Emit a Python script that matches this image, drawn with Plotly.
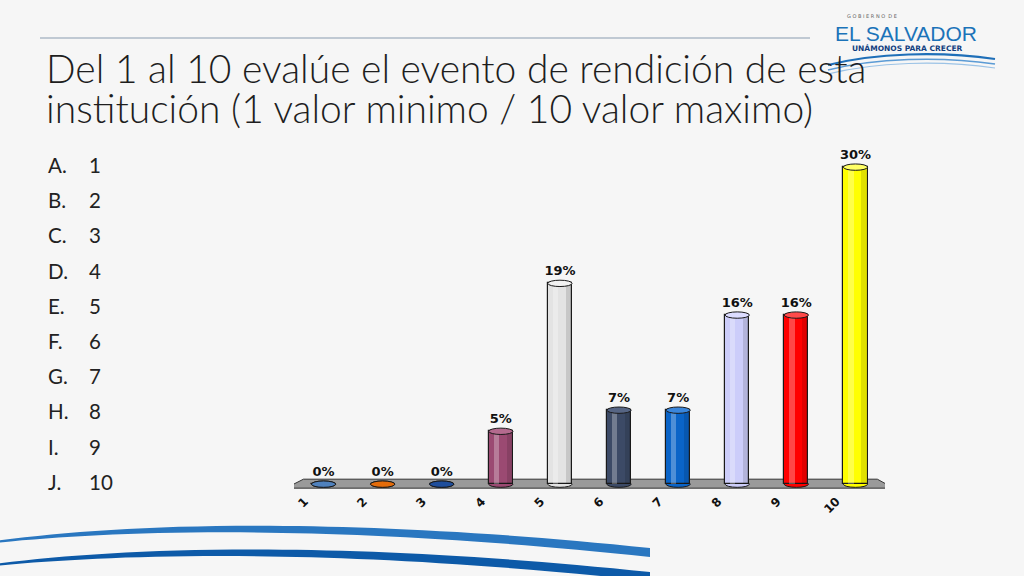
import plotly.graph_objects as go

# ---------------- data ----------------
categories = ["1", "2", "3", "4", "5", "6", "7", "8", "9", "10"]
values = [0, 0, 0, 5, 19, 7, 7, 16, 16, 30]
value_labels = ["0%", "0%", "0%", "5%", "19%", "7%", "7%", "16%", "16%", "30%"]
bar_colors = ["#4f81bd", "#e46c0a", "#1f4e9c", "#9b4a72", "#e3e3e3",
              "#3c4a66", "#0a64c8", "#cccdfa", "#ff0000", "#ffff00"]
top_colors = ["#6d98cc", "#f08a3a", "#3a6ab8", "#b46a8e", "#f2f2f2",
              "#566584", "#3a86dc", "#dcdcff", "#ff4a4a", "#ffff66"]
list_letters = ["A.", "B.", "C.", "D.", "E.", "F.", "G.", "H.", "I.", "J."]
list_values = ["1", "2", "3", "4", "5", "6", "7", "8", "9", "10"]
title_lines = ["Del 1 al 10 evalúe el evento de rendición de esta",
               "institución (1 valor minimo / 10 valor maximo)"]

# ---------------- layout geometry ----------------
W, H = 1024, 576
ML, MR, MT, MB = 294, 139, 146, 76
PW, PH = W - ML - MR, H - MT - MB


def X(px):
    return (px - ML) / PW


def Y(py):
    return (H - MB - py) / PH


xs = list(range(1, len(categories) + 1))

fig = go.Figure()

# main cylinder bodies
fig.add_trace(go.Bar(
    x=xs, y=values, width=0.41,
    marker=dict(color=bar_colors, line=dict(color="#1a1a1a", width=1.2)),
    hoverinfo="skip", showlegend=False,
))
# highlight stripe
fig.add_trace(go.Bar(
    x=xs, y=values, width=0.09, offset=-0.12,
    marker=dict(color="rgba(255,255,255,0.28)", line=dict(width=0)),
    hoverinfo="skip", showlegend=False,
))
# shaded right side
fig.add_trace(go.Bar(
    x=xs, y=values, width=0.08, offset=0.1,
    marker=dict(color="rgba(0,0,0,0.12)", line=dict(width=0)),
    hoverinfo="skip", showlegend=False,
))
# value labels
fig.add_trace(go.Scatter(
    x=xs, y=[v + 0.45 for v in values], text=value_labels,
    mode="text", textposition="top center",
    textfont=dict(family="DejaVu Sans", size=13, color="#111111", weight="bold"),
    hoverinfo="skip", showlegend=False,
))

shapes = []
# floor (perspective plate) in data coordinates
shapes.append(dict(
    type="path", xref="x", yref="y", layer="below",
    path="M 0.36,-0.38 L 10.645,-0.38 L 10.37,0.47 L 0.66,0.47 Z",
    fillcolor="#9a9a9a", line=dict(color="#333333", width=1),
))
eh = 0.3
hw = 0.205
for xi, v, c, tc in zip(xs, values, bar_colors, top_colors):
    # bottom ellipse (rounded base)
    shapes.append(dict(type="circle", xref="x", yref="y", layer="below",
                       x0=xi - hw, x1=xi + hw, y0=-eh, y1=eh,
                       fillcolor=c, line=dict(color="#1a1a1a", width=1)))
    # top ellipse
    shapes.append(dict(type="circle", xref="x", yref="y", layer="above",
                       x0=xi - hw, x1=xi + hw, y0=v - eh, y1=v + eh,
                       fillcolor=tc if v > 0 else c,
                       line=dict(color="#1a1a1a", width=1)))


# slide decorations (paper coordinates derived from pixel helper)
def pth(points):
    out = []
    for cmd, pts in points:
        coords = " ".join(f"{X(a):.5f},{Y(b):.5f}" for a, b in pts)
        out.append(f"{cmd} {coords}" if coords else cmd)
    return " ".join(out)


# top rule
shapes.append(dict(type="line", xref="paper", yref="paper",
                   x0=X(40), x1=X(810), y0=Y(38), y1=Y(38),
                   line=dict(color="#8a9bb0", width=1.2)))
# bottom-left swooshes
shapes.append(dict(type="path", xref="paper", yref="paper", layer="below",
                   path=pth([("M", [(-5, 541)]),
                             ("C", [(120, 524), (330, 515), (650, 548)]),
                             ("L", [(650, 557)]),
                             ("C", [(330, 523), (120, 530), (-5, 543)]),
                             ("Z", [])]),
                   fillcolor="#2a77c0", line=dict(width=0)))
shapes.append(dict(type="path", xref="paper", yref="paper", layer="below",
                   path=pth([("M", [(-5, 564)]),
                             ("C", [(120, 548), (330, 539), (650, 572)]),
                             ("L", [(650, 581)]),
                             ("C", [(330, 547), (120, 554), (-5, 566)]),
                             ("Z", [])]),
                   fillcolor="#0d5aa8", line=dict(width=0)))
# logo waves
for dy, col, wdt in [(0, "#1f6fb8", 2.2), (5, "#5b9bd5", 1.6), (9, "#9cc3e6", 1.2)]:
    shapes.append(dict(type="path", xref="paper", yref="paper",
                       path=pth([("M", [(828, 65 + dy)]),
                                 ("C", [(875, 53 + dy), (940, 51 + dy), (995, 59 + dy)])]),
                       line=dict(color=col, width=wdt)))

annotations = []
for i, line in enumerate(title_lines):
    annotations.append(dict(
        text=line, xref="paper", yref="paper", x=X(44), y=Y(68 + 40 * i),
        xanchor="left", yanchor="middle", align="left", showarrow=False,
        font=dict(family="Lato", size=39, color="#1e1e1e", weight=300),
    ))
for i, (lt, lv) in enumerate(zip(list_letters, list_values)):
    yc = 165 + i * 35.2
    annotations.append(dict(text=lt, xref="paper", yref="paper", x=X(46), y=Y(yc),
                            xanchor="left", yanchor="middle", showarrow=False,
                            font=dict(family="Lato", size=20.5, color="#222222")))
    annotations.append(dict(text=lv, xref="paper", yref="paper", x=X(87), y=Y(yc),
                            xanchor="left", yanchor="middle", showarrow=False,
                            font=dict(family="Lato", size=20.5, color="#222222")))
# logo texts
annotations.append(dict(text="G O B I E R N O  D E", xref="paper", yref="paper",
                        x=X(845), y=Y(16), xanchor="left", yanchor="middle",
                        showarrow=False,
                        font=dict(family="DejaVu Sans", size=5, color="#666666")))
annotations.append(dict(text="EL SALVADOR", xref="paper", yref="paper",
                        x=X(906), y=Y(33), xanchor="center", yanchor="middle",
                        showarrow=False,
                        font=dict(family="Liberation Sans", size=21, color="#1b73b9")))
annotations.append(dict(text="UNÁMONOS PARA CRECER", xref="paper", yref="paper",
                        x=X(907), y=Y(49), xanchor="center", yanchor="middle",
                        showarrow=False,
                        font=dict(family="DejaVu Sans", size=7.5, color="#123f80",
                                  weight="bold")))

fig.update_layout(
    width=W, height=H,
    margin=dict(l=ML, r=MR, t=MT, b=MB, pad=0),
    paper_bgcolor="#f6f6f6", plot_bgcolor="rgba(0,0,0,0)",
    barmode="overlay", bargap=0,
    shapes=shapes, annotations=annotations,
    showlegend=False,
    xaxis=dict(range=[0.5, 10.5], tickmode="array", tickvals=xs, ticktext=categories,
               tickangle=-45, showgrid=False, zeroline=False, showline=False,
               ticks="", ticklabelshift=-19, ticklabelstandoff=-9,
               tickfont=dict(family="DejaVu Sans", size=12, color="#111111",
                             weight="bold")),
    yaxis=dict(range=[-1.5, 32], showgrid=False, zeroline=False, showline=False,
               showticklabels=False, ticks=""),
)

fig.write_html("out.html",
               config={"displayModeBar": False},
               post_script="document.body.style.margin='0px';"
                           "document.body.style.overflow='hidden';")
